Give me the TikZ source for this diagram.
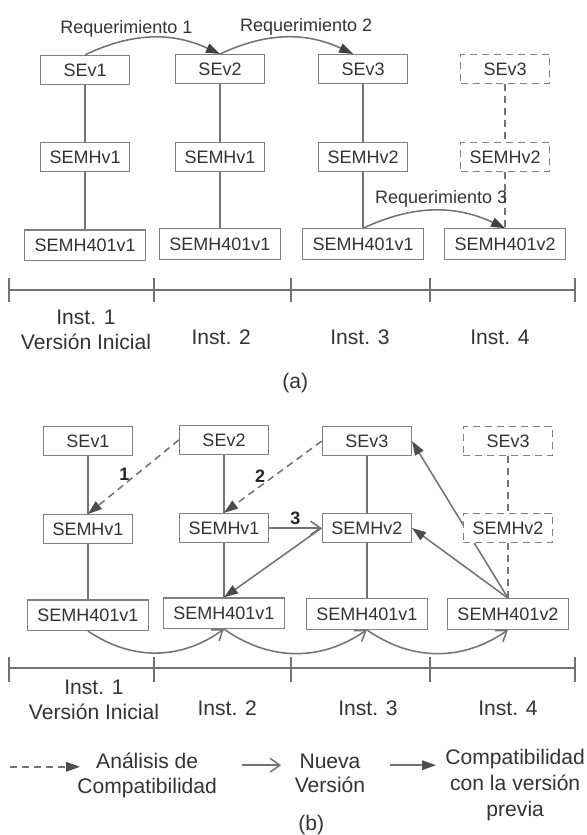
\documentclass[tikz,border=0pt]{standalone}
\usepackage{fontspec}
\setmainfont{Liberation Sans}
\usepackage{tikz}
\usetikzlibrary{arrows.meta, positioning, backgrounds, calc}

\begin{document}
\begin{tikzpicture}[
    version/.style={draw=black!50, line width=0.9pt, fill=white, rectangle, minimum width=2.23cm, minimum height=0.73cm,
                    inner sep=1pt, font=\fontsize{12.8}{15}\selectfont, text=black!80},
    module/.style={version, minimum width=3.03cm, minimum height=0.76cm},
    future/.style={version, dash pattern=on 5pt off 3.5pt},
    instlabel/.style={font=\fontsize{15}{17.5}\selectfont, text=black!80, align=center},
    reqtext/.style={font=\fontsize{12.8}{15}\selectfont, text=black!80, inner sep=2pt},
    numtext/.style={font=\fontsize{12.8}{15}\selectfont\bfseries, text=black!85, inner sep=2pt},
    link/.style={draw=black!55, line width=1.1pt},
    req/.style={link, -{Triangle[length=3.5mm, width=2.4mm, color=black!75]}},
    newver/.style={link, -{Straight Barb[length=2.4mm, width=3.4mm]}},
    compat/.style={link, -{Triangle[length=3.5mm, width=2.4mm, color=black!70]}},
    analysis/.style={link, dash pattern=on 5pt off 3.5pt, -{Triangle[length=3.5mm, width=2.4mm, color=black!70]}}
]
\useasboundingbox (0,0) rectangle (14.675,-20.875);

% (a) Versions
\node[version] (sev1a) at (2.13, -1.75) {SEv1};
\node[version] (sev2a) at (5.50, -1.73) {SEv2};
\node[version] (sev3a) at (9.08, -1.73) {SEv3};
\node[future]  (sev3fa) at (12.63, -1.73) {SEv3};
\node[version] (semhv1a) at (2.13, -3.93) {SEMHv1};
\node[version] (semhv2a) at (5.50, -3.93) {SEMHv1};
\node[version] (semhv3a) at (9.08, -3.93) {SEMHv2};
\node[future]  (semhv4a) at (12.63, -3.93) {SEMHv2};
\node[module] (semh1a) at (2.13, -6.13) {SEMH401v1};
\node[module] (semh2a) at (5.50, -6.10) {SEMH401v1};
\node[module] (semh3a) at (9.08, -6.10) {SEMH401v1};
\node[module] (semh4a) at (12.63, -6.10) {SEMH401v2};

% (a) Links
\draw[link] (sev1a) -- (semhv1a) -- (semh1a);
\draw[link] (sev2a) -- (semhv2a) -- (semh2a);
\draw[link] (sev3a) -- (semhv3a) -- (semh3a);
\draw[link, dash pattern=on 5pt off 3.5pt] (sev3fa) -- (semhv4a) -- (semh4a);
\draw[req] (sev1a.north) to[bend left=25] node[pos=0.3, above, reqtext]{Requerimiento 1} (sev2a.north);
\draw[req] (sev2a.north) to[bend left=25] node[pos=0.65, above, reqtext]{Requerimiento 2} ($(sev3a.north)+(-0.25,0)$);
\draw[req] (semh3a.north) to[bend left=25] node[pos=0.55, above, reqtext]{Requerimiento 3} (semh4a.north);

% (a) Timeline
\draw[link] (0.23, -7.25) -- (14.38, -7.25);
\foreach \x in {0.23, 3.85, 7.28, 10.75, 14.38}
    \draw[link] (\x, -6.95) -- (\x, -7.55);
\node[instlabel] (inst1a) at (2.15, -8.25) {Inst. 1\\Versión Inicial};
\node[instlabel] (inst2a) at (5.53, -8.43) {Inst. 2};
\node[instlabel] (inst3a) at (9.00, -8.43) {Inst. 3};
\node[instlabel] (inst4a) at (12.50, -8.43) {Inst. 4};
\node[instlabel] (capa) at (7.38, -9.58) {(a)};

% (b) Versions
\node[version] (sev1b) at (2.20, -11.03) {SEv1};
\node[version] (sev2b) at (5.60, -11.00) {SEv2};
\node[version] (sev3b) at (9.17, -11.03) {SEv3};
\node[future]  (sev3fb) at (12.70, -11.03) {SEv3};
\node[version] (semhv1b) at (2.20, -13.23) {SEMHv1};
\node[version] (semhv2b) at (5.60, -13.20) {SEMHv1};
\node[version] (semhv3b) at (9.17, -13.20) {SEMHv2};
\node[future]  (semhv4b) at (12.70, -13.20) {SEMHv2};
\node[module] (semh1b) at (2.20, -15.38) {SEMH401v1};
\node[module] (semh2b) at (5.60, -15.33) {SEMH401v1};
\node[module] (semh3b) at (9.17, -15.35) {SEMH401v1};
\node[module] (semh4b) at (12.70, -15.35) {SEMH401v2};

% (b) Links
\begin{scope}[on background layer]
\draw[link] (sev1b) -- (semhv1b) -- (semh1b);
\draw[link] (sev2b) -- (semhv2b) -- (semh2b);
\draw[link] (sev3b) -- (semhv3b) -- (semh3b);
\draw[link, dash pattern=on 5pt off 3.5pt] (sev3fb) -- (semhv4b) -- (semh4b);
\draw[analysis] (sev2b.west) -- node[pos=0.6, above, numtext]{1} (semhv1b.north);
\draw[analysis] (sev3b.west) -- node[pos=0.63, above, numtext]{2} (semhv2b.north);
\draw[newver] (semhv2b.east) -- node[above, numtext]{3} (semhv3b.west);
\draw[compat] (semhv3b.west) -- (semh2b.north);
\draw[compat] (semh4b.north) -- (sev3b.east);
\draw[compat] (semh4b.north) -- (semhv3b.east);
\draw[newver] (semh1b.south) to[bend right=35] (semh2b.south);
\draw[newver] (semh2b.south) to[bend right=35] (semh3b.south);
\draw[newver] (semh3b.south) to[bend right=35] (semh4b.south);
\end{scope}

% (b) Timeline
\draw[link] (0.23, -16.70) -- (14.38, -16.70);
\foreach \x in {0.23, 3.85, 7.28, 10.75, 14.38}
    \draw[link] (\x, -16.43) -- (\x, -17.05);
\node[instlabel] (inst1b) at (2.35, -17.50) {Inst. 1\\Versión Inicial};
\node[instlabel] (inst2b) at (5.68, -17.70) {Inst. 2};
\node[instlabel] (inst3b) at (9.20, -17.70) {Inst. 3};
\node[instlabel] (inst4b) at (12.70, -17.70) {Inst. 4};

% Legend
\coordinate (dashs) at (0.25, -19.17);
\coordinate (dashe) at (2.00, -19.17);
\coordinate (opens) at (6.05, -19.13);
\coordinate (opene) at (7.03, -19.13);
\coordinate (fills) at (9.75, -19.13);
\coordinate (fille) at (10.90, -19.13);
\draw[analysis] (dashs) -- (dashe);
\draw[newver] (opens) -- (opene);
\draw[compat] (fills) -- (fille);
\node[instlabel] (lganal) at (3.68, -19.38) {Análisis de\\Compatibilidad};
\node[instlabel] (lgnew) at (8.25, -19.33) {Nueva\\Versión};
\node[instlabel, font=\fontsize{15}{18.5}\selectfont] (lgcomp) at (12.88, -19.63) {Compatibilidad\\con la versión\\previa};
\node[instlabel] (capb) at (7.78, -20.63) {(b)};
\end{tikzpicture}
\end{document}
